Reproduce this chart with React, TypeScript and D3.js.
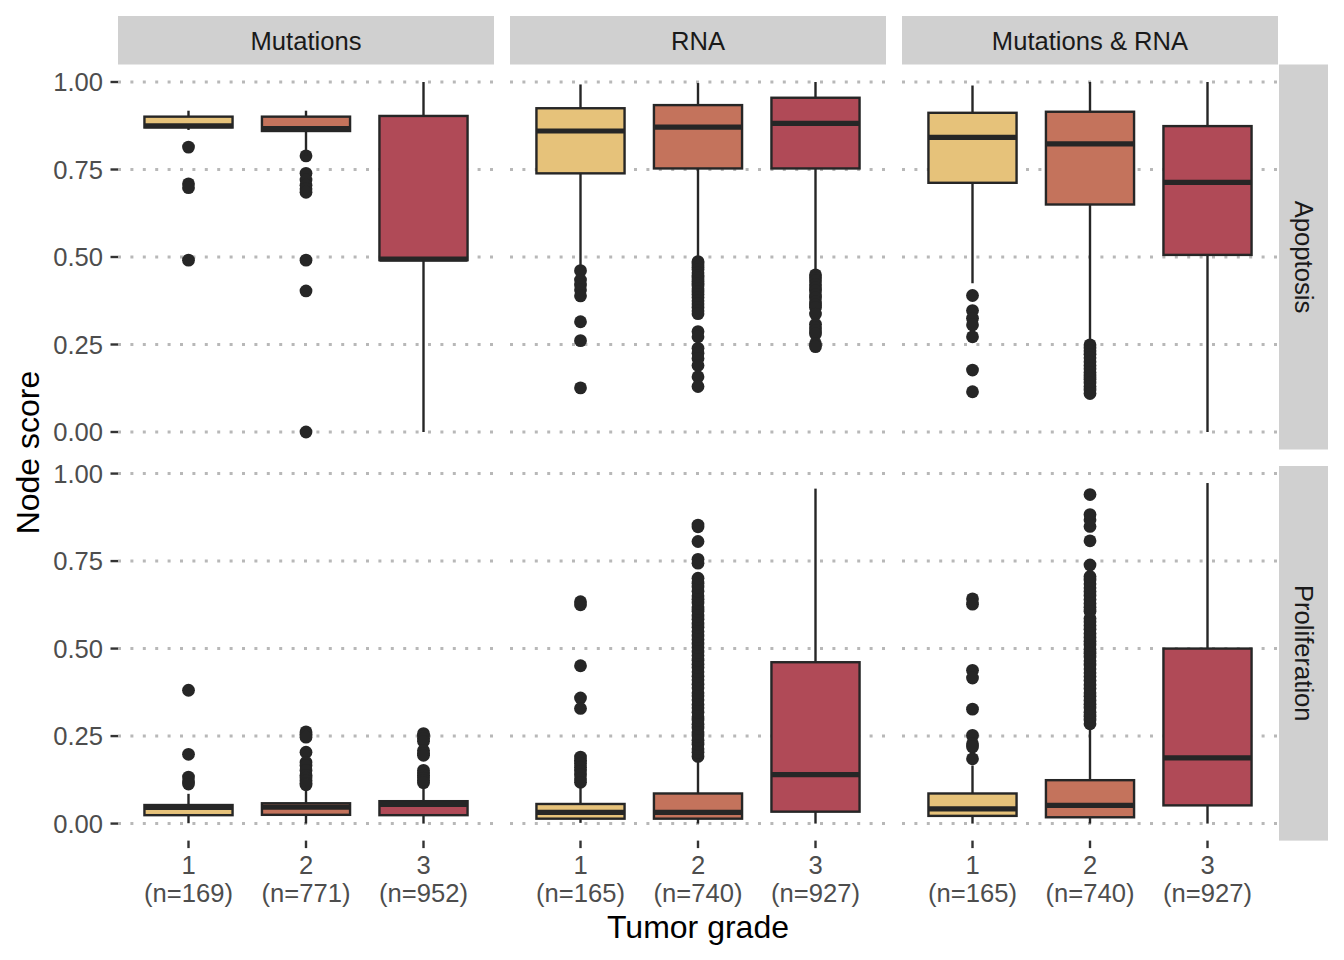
import React from "react";
import * as d3 from "d3";

// ---------- data ----------
const methods = ["Mutations", "RNA", "Mutations & RNA"];
const nodes = ["Apoptosis", "Proliferation"];
const grades = ["1", "2", "3"];
const sampleCounts = [
  [169, 771, 952],
  [165, 740, 927],
  [165, 740, 927],
];
const gradeColors = ["#E6C27A", "#C4735C", "#B04A57"];
const yTicks = [0, 0.25, 0.5, 0.75, 1];
const yTickLabels = ["0.00", "0.25", "0.50", "0.75", "1.00"];

// each entry: [lower whisker, q1, median, q3, upper whisker] for grades 1,2,3
const apoptosisMutationsStats = [
  [0.863, 0.87, 0.875, 0.901, 0.918],
  [0.789, 0.86, 0.867, 0.901, 0.918],
  [0.0, 0.491, 0.494, 0.903, 1.0],
];
const apoptosisMutationsOutliers = [
  [0.814, 0.709, 0.698, 0.491],
  [0.789, 0.739, 0.72, 0.705, 0.695, 0.685, 0.491, 0.403, 0.0],
  [],
];

const apoptosisRnaStats = [
  [0.47, 0.739, 0.86, 0.925, 0.993],
  [0.493, 0.753, 0.871, 0.934, 0.997],
  [0.455, 0.753, 0.882, 0.955, 1.0],
];
const apoptosisRnaOutliers = [
  [0.461, 0.434, 0.42, 0.406, 0.389, 0.315, 0.261, 0.126],
  [0.487, 0.48, 0.471, 0.464, 0.455, 0.447, 0.44, 0.431, 0.424, 0.417, 0.409, 0.4, 0.393, 0.384, 0.375, 0.366, 0.356, 0.346, 0.338,
    0.287, 0.272, 0.239, 0.225, 0.21, 0.19, 0.158, 0.13],
  [0.449, 0.441, 0.432, 0.421, 0.412, 0.403, 0.392, 0.383, 0.372, 0.363, 0.356, 0.337, 0.308, 0.298, 0.289, 0.28, 0.252, 0.244],
];

const apoptosisBothStats = [
  [0.425, 0.712, 0.842, 0.912, 0.99],
  [0.258, 0.65, 0.823, 0.915, 1.0],
  [0.0, 0.506, 0.713, 0.874, 1.0],
];
const apoptosisBothOutliers = [
  [0.39, 0.347, 0.325, 0.306, 0.272, 0.177, 0.115],
  [0.249, 0.241, 0.232, 0.222, 0.212, 0.201, 0.19, 0.181, 0.17, 0.16, 0.151, 0.14, 0.13, 0.12, 0.11],
  [],
];

const proliferationMutationsStats = [
  [0.001, 0.024, 0.046, 0.053, 0.085],
  [0.0, 0.025, 0.047, 0.058, 0.095],
  [0.0, 0.024, 0.055, 0.064, 0.109],
];
const proliferationMutationsOutliers = [
  [0.381, 0.198, 0.133, 0.122, 0.113],
  [0.262, 0.255, 0.247, 0.204, 0.175, 0.166, 0.152, 0.138, 0.13, 0.123, 0.115, 0.111],
  [0.257, 0.25, 0.243, 0.235, 0.209, 0.2, 0.195, 0.152, 0.145, 0.138, 0.13, 0.123, 0.117],
];

const proliferationRnaStats = [
  [0.002, 0.014, 0.032, 0.056, 0.104],
  [0.0, 0.014, 0.032, 0.086, 0.185],
  [0.0, 0.034, 0.14, 0.461, 0.957],
];
const proliferationRnaOutliers = [
  [0.634, 0.625, 0.451, 0.359, 0.329, 0.19, 0.181, 0.172, 0.161, 0.15, 0.139, 0.128, 0.118],
  [0.192, 0.204, 0.214, 0.227, 0.238, 0.25, 0.259, 0.273, 0.284, 0.296, 0.305, 0.318, 0.331, 0.34, 0.354, 0.365, 0.374,
    0.388, 0.398, 0.411, 0.421, 0.434, 0.446, 0.455, 0.467, 0.48, 0.49, 0.503, 0.513, 0.526, 0.536, 0.549, 0.561,
    0.57, 0.584, 0.593, 0.607, 0.616, 0.63, 0.641, 0.651, 0.664, 0.676, 0.687, 0.701, 0.744, 0.755, 0.806, 0.848, 0.853],
  [],
];

const proliferationBothStats = [
  [0.0, 0.022, 0.042, 0.086, 0.166],
  [0.0, 0.018, 0.052, 0.124, 0.276],
  [0.0, 0.052, 0.188, 0.5, 0.973],
];
const proliferationBothOutliers = [
  [0.642, 0.627, 0.438, 0.416, 0.327, 0.252, 0.228, 0.219, 0.185],
  [0.285, 0.296, 0.307, 0.318, 0.33, 0.341, 0.352, 0.364, 0.374, 0.386, 0.397, 0.409, 0.42, 0.431, 0.442, 0.453, 0.465,
    0.476, 0.487, 0.498, 0.51, 0.521, 0.532, 0.543, 0.555, 0.566, 0.577, 0.586, 0.607, 0.618, 0.629, 0.64, 0.652,
    0.663, 0.674, 0.685, 0.696, 0.706, 0.739, 0.808, 0.849, 0.868, 0.883, 0.94],
  [],
];

const statsGrid = [
  [apoptosisMutationsStats, apoptosisRnaStats, apoptosisBothStats],
  [proliferationMutationsStats, proliferationRnaStats, proliferationBothStats],
];
const outlierGrid = [
  [apoptosisMutationsOutliers, apoptosisRnaOutliers, apoptosisBothOutliers],
  [proliferationMutationsOutliers, proliferationRnaOutliers, proliferationBothOutliers],
];

// ---------- layout ----------
const W = 1344;
const H = 960;
const panelW = 376;
const panelLefts = [118, 510, 902];
const stripTop = 16;
const stripH = 48.5;
const rowGap = 16.5;
const pxPerUnit = 350;
const rightStripX = 1279;
const rightStripW = 49;
const font = "'Liberation Sans', Arial, Helvetica, sans-serif";
const ink = "#262626";

function rowDomain(r: number): [number, number] {
  const vals: number[] = [];
  statsGrid[r].forEach((panel) => panel.forEach((s) => vals.push(...s)));
  outlierGrid[r].forEach((panel) => panel.forEach((o) => vals.push(...o)));
  const [lo, hi] = d3.extent(vals) as [number, number];
  const pad = (hi - lo) * 0.05;
  return [lo - pad, hi + pad];
}

export default function App() {
  const domains = [rowDomain(0), rowDomain(1)];
  const heights = domains.map((d) => (d[1] - d[0]) * pxPerUnit);
  const rowTops = [stripTop + stripH, stripTop + stripH + heights[0] + rowGap];

  const x = d3.scalePoint<string>().domain(grades).range([0, panelW]).padding(0.6);
  const step = x.step();
  const boxW = step * 0.75;

  return (
    <svg
      width={W}
      height={H}
      style={{ position: "absolute", left: 0, top: 0, background: "#fff" }}
      fontFamily={font}
    >
      <rect width={W} height={H} fill="#fff" />
      {/* top strips */}
      {methods.map((m, c) => (
        <g key={"ts" + c}>
          <rect x={panelLefts[c]} y={stripTop} width={panelW} height={stripH} fill="#D0D0D0" />
          <text
            x={panelLefts[c] + panelW / 2}
            y={stripTop + stripH / 2 + 1}
            dy="0.35em"
            textAnchor="middle"
            fontSize={25.6}
            fill="#1A1A1A"
          >
            {m}
          </text>
        </g>
      ))}
      {/* right strips */}
      {nodes.map((n, r) => (
        <g key={"rs" + r}>
          <rect x={rightStripX} y={rowTops[r]} width={rightStripW} height={heights[r]} fill="#D0D0D0" />
          <text
            transform={`translate(${rightStripX + rightStripW / 2},${rowTops[r] + heights[r] / 2}) rotate(90)`}
            dy="0.35em"
            textAnchor="middle"
            fontSize={25.6}
            fill="#1A1A1A"
          >
            {n}
          </text>
        </g>
      ))}
      {nodes.map((n, r) => {
        const y = d3.scaleLinear().domain(domains[r]).range([heights[r], 0]);
        return (
          <g key={"row" + r}>
            {/* y axis */}
            <g transform={`translate(${panelLefts[0]},${rowTops[r]})`}>
              {yTicks.map((t, i) => (
                <g key={i}>
                  <line x1={-7.5} x2={0} y1={y(t)} y2={y(t)} stroke="#333" strokeWidth={2.4} />
                  <text x={-15} y={y(t)} dy="0.36em" textAnchor="end" fontSize={25.6} fill="#4D4D4D">
                    {yTickLabels[i]}
                  </text>
                </g>
              ))}
            </g>
            {methods.map((m, c) => (
              <g key={"p" + c} transform={`translate(${panelLefts[c]},${rowTops[r]})`}>
                {yTicks.map((t, i) => (
                  <line
                    key={i}
                    x1={0}
                    x2={panelW}
                    y1={y(t)}
                    y2={y(t)}
                    stroke="#B8B8B8"
                    strokeWidth={3}
                    strokeDasharray="3 9.4"
                  />
                ))}
                {grades.map((g, gi) => {
                  const [lo, q1, med, q3, hi] = statsGrid[r][c][gi];
                  const cx = x(g) as number;
                  return (
                    <g key={g}>
                      {outlierGrid[r][c][gi].map((v, k) => (
                        <circle key={k} cx={cx} cy={y(v)} r={6.4} fill={ink} />
                      ))}
                      <line x1={cx} x2={cx} y1={y(hi)} y2={y(q3)} stroke={ink} strokeWidth={2.4} />
                      <line x1={cx} x2={cx} y1={y(q1)} y2={y(lo)} stroke={ink} strokeWidth={2.4} />
                      <rect
                        x={cx - boxW / 2}
                        y={y(q3)}
                        width={boxW}
                        height={y(q1) - y(q3)}
                        fill={gradeColors[gi]}
                        stroke={ink}
                        strokeWidth={2.4}
                      />
                      <line
                        x1={cx - boxW / 2}
                        x2={cx + boxW / 2}
                        y1={y(med)}
                        y2={y(med)}
                        stroke={ink}
                        strokeWidth={5.2}
                      />
                    </g>
                  );
                })}
                {r === nodes.length - 1 &&
                  grades.map((g, gi) => (
                    <g key={"xt" + g} transform={`translate(${x(g)},${heights[r]})`}>
                      <line y1={0} y2={7.5} stroke="#333" strokeWidth={2.4} />
                      <text textAnchor="middle" fontSize={25.6} fill="#4D4D4D">
                        <tspan x={0} y={33}>
                          {g}
                        </tspan>
                        <tspan x={0} y={61}>
                          {`(n=${sampleCounts[c][gi]})`}
                        </tspan>
                      </text>
                    </g>
                  ))}
              </g>
            ))}
          </g>
        );
      })}
      {/* axis titles */}
      <text
        x={(panelLefts[0] + panelLefts[2] + panelW) / 2}
        y={938}
        textAnchor="middle"
        fontSize={32}
        fill="#000"
      >
        Tumor grade
      </text>
      <text
        transform={`translate(39,${(rowTops[0] + rowTops[1] + heights[1]) / 2}) rotate(-90)`}
        textAnchor="middle"
        fontSize={32}
        fill="#000"
      >
        Node score
      </text>
    </svg>
  );
}
